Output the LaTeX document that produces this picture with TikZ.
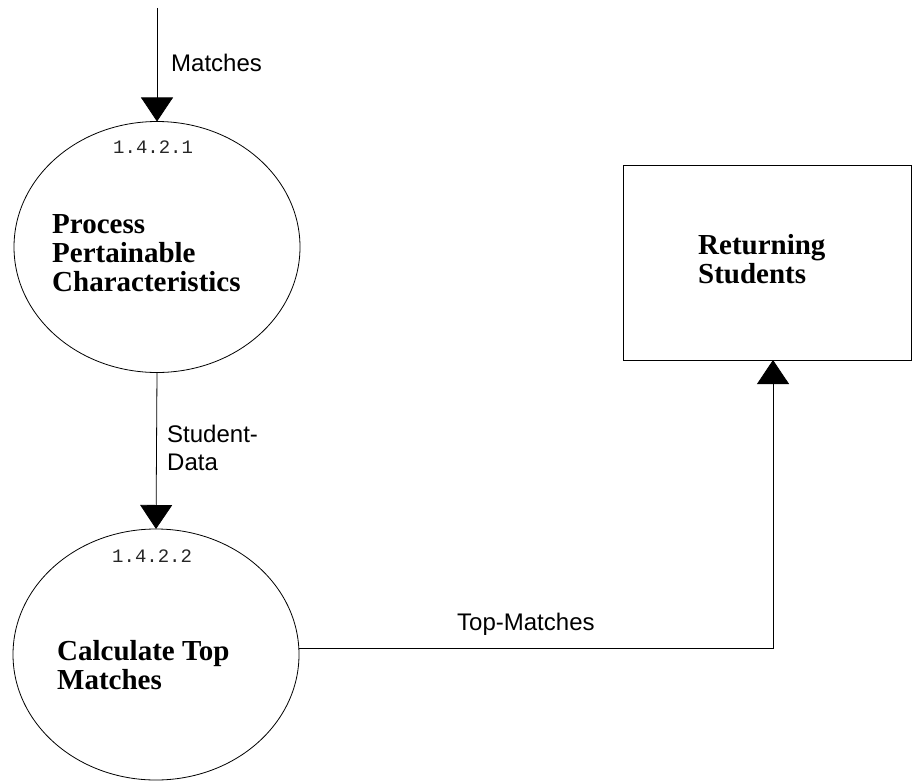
\documentclass[tikz,border=0pt]{standalone}
\usepackage{fontspec}
\setmainfont{Liberation Serif}
\newfontfamily\lsans{Liberation Sans}
\newfontfamily\lmono{Liberation Mono}
\usetikzlibrary{shapes.geometric,arrows.meta}
\begin{document}
\begin{tikzpicture}[x=1pt,y=-1pt,
  proc/.style={draw, ellipse, inner sep=0pt, outer sep=0pt, minimum width=286pt, minimum height=251pt, line width=0.8pt},
  store/.style={draw, rectangle, inner sep=0pt, outer sep=0pt, minimum width=288pt, minimum height=195pt, line width=0.8pt},
  title/.style={anchor=base west, inner sep=0pt, font=\fontsize{29}{29}\selectfont\bfseries},
  num/.style={anchor=base west, inner sep=0pt, font=\lmono\fontsize{19}{19}\selectfont, text=black!85},
  flowlbl/.style={anchor=base west, inner sep=0pt, font=\lsans\fontsize{24}{28}\selectfont},
  flow/.style={line width=0.8pt, -{Triangle[width=32pt,length=24pt]}}]
\useasboundingbox (0,0) rectangle (912,781);
% processes and store
\node[proc] (e1) at (157,247) {};
\node[proc] (e2) at (156,654.5) {};
\node[store] (rs) at (767,262.5) {};
% texts
\node[num] (n1) at (113,153) {1.4.2.1};
\node[title] (t1) at (52,233) {\begin{tabular}[t]{@{}l@{}}Process\\Pertainable\\Characteristics\end{tabular}};
\node[num] (n2) at (112,562) {1.4.2.2};
\node[title] (t2) at (57,660) {\begin{tabular}[t]{@{}l@{}}Calculate Top\\Matches\end{tabular}};
\node[title] (t3) at (698,254) {\begin{tabular}[t]{@{}l@{}}Returning\\Students\end{tabular}};
% flows
\coordinate (src) at (157,8);
\draw[flow] (src) -- (e1.north);
\node[flowlbl] (l1) at (171,72) {Matches};
\draw[flow] (e1.south) -- (e2.north);
\node[flowlbl] (l2) at (167,442) {\begin{tabular}[t]{@{}l@{}}Student-\\Data\end{tabular}};
\draw[flow] ([yshift=6.5pt]e2.east) -| ([xshift=6pt]rs.south);
\node[flowlbl] (l3) at (457,630) {Top-Matches};
\end{tikzpicture}
\end{document}
